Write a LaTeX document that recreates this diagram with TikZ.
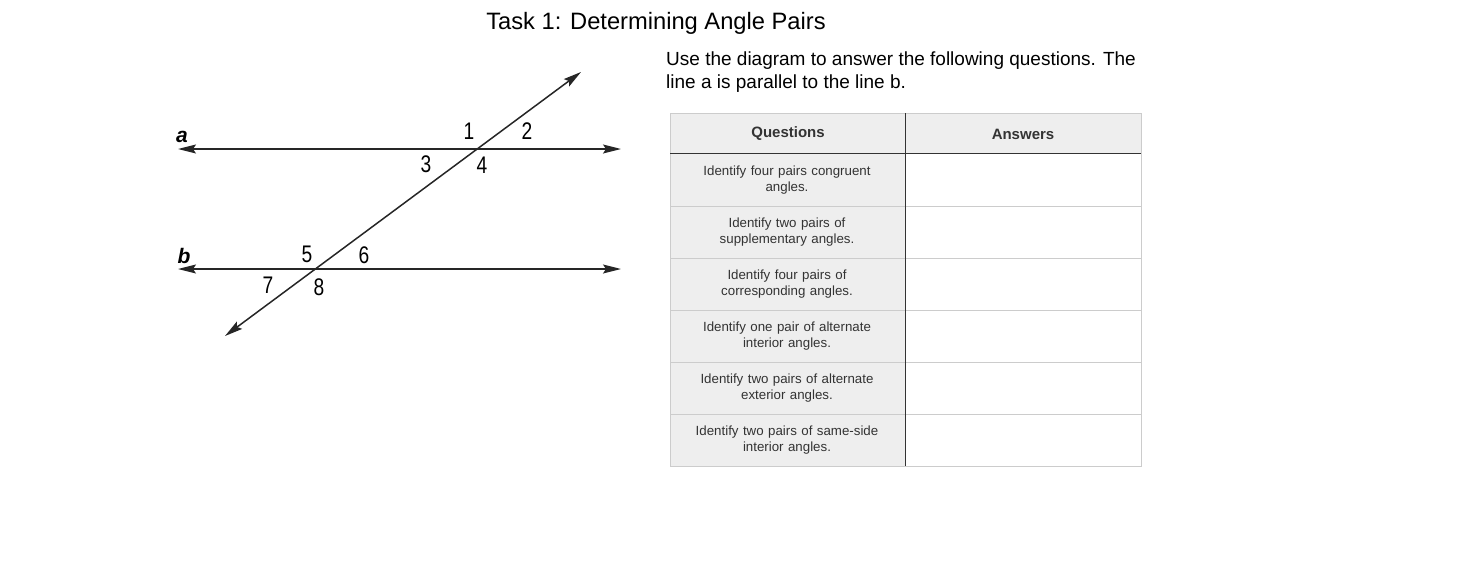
\documentclass[tikz,border=0pt]{standalone}
\usepackage{fontspec}
\setmainfont{Liberation Sans}
\usetikzlibrary{arrows.meta}
\definecolor{cellg}{HTML}{EEEEEE}
\definecolor{bord}{HTML}{CCCCCC}
\definecolor{txt}{HTML}{333333}
\begin{document}
\begin{tikzpicture}[x=1pt,y=-1pt,
  geo/.style={line width=1.5pt,draw=black!85,{Stealth[length=18pt,width=9pt,inset=3pt]}-{Stealth[length=18pt,width=9pt,inset=3pt]}},
  num/.style={font=\fontsize{24}{24}\selectfont,inner sep=0pt,xscale=0.8},
  cell/.style={font=\fontsize{13.3}{16}\selectfont,text=txt,align=center,text width=200pt},
  hdr/.style={font=\fontsize{15}{17}\selectfont\bfseries,text=txt}]
\useasboundingbox (0,0) rectangle (1466,565);
\node (title) at (656,23) {\fontsize{23.7}{26}\selectfont Task 1: Determining Angle Pairs};
\node[anchor=north west,align=left,inner sep=0pt,font=\fontsize{19}{23}\selectfont] (intro) at (666,52)
  {Use the diagram to answer the following questions. The\\line a is parallel to the line b.};
% geometry
\coordinate (a1) at (178,149); \coordinate (a2) at (621,149);
\coordinate (b1) at (178,269); \coordinate (b2) at (621,269);
\coordinate (t1) at (225,336); \coordinate (t2) at (581,72);
\draw[geo] (a1) -- (a2);
\draw[geo] (b1) -- (b2);
\draw[geo] (t1) -- (t2);
\node[font=\fontsize{21}{21}\selectfont\bfseries\itshape,inner sep=0pt] (la) at (182,137) {a};
\node[font=\fontsize{21}{21}\selectfont\bfseries\itshape,inner sep=0pt] (lb) at (184,256) {b};
\node[num] (n1) at (469,131) {1};
\node[num] (n2) at (527,131) {2};
\node[num] (n3) at (426,164) {3};
\node[num] (n4) at (482,165) {4};
\node[num] (n5) at (307,254) {5};
\node[num] (n6) at (364,255) {6};
\node[num] (n7) at (268,285) {7};
\node[num] (n8) at (319,287) {8};
% table
\fill[cellg] (670,113) rectangle (1141,153);
\fill[cellg] (670,153) rectangle (905,466);
\foreach \y in {206,258,310,362,414}{\draw[bord] (670,\y) -- (1141,\y);}
\draw[bord] (670,113) rectangle (1141,466);
\draw[txt,line width=0.8pt] (670,153) -- (1141,153);
\draw[txt,line width=0.8pt] (905,113) -- (905,466);
\node[hdr] (hq) at (788,134) {Questions};
\node[hdr] (ha) at (1023,134) {Answers};
\node[cell] (q1) at (787,180) {Identify four pairs congruent\\angles.};
\node[cell] (q2) at (787,232) {Identify two pairs of\\supplementary angles.};
\node[cell] (q3) at (787,284) {Identify four pairs of\\corresponding angles.};
\node[cell] (q4) at (787,336) {Identify one pair of alternate\\interior angles.};
\node[cell] (q5) at (787,388) {Identify two pairs of alternate\\exterior angles.};
\node[cell] (q6) at (787,440) {Identify two pairs of same-side\\interior angles.};
\end{tikzpicture}
\end{document}
